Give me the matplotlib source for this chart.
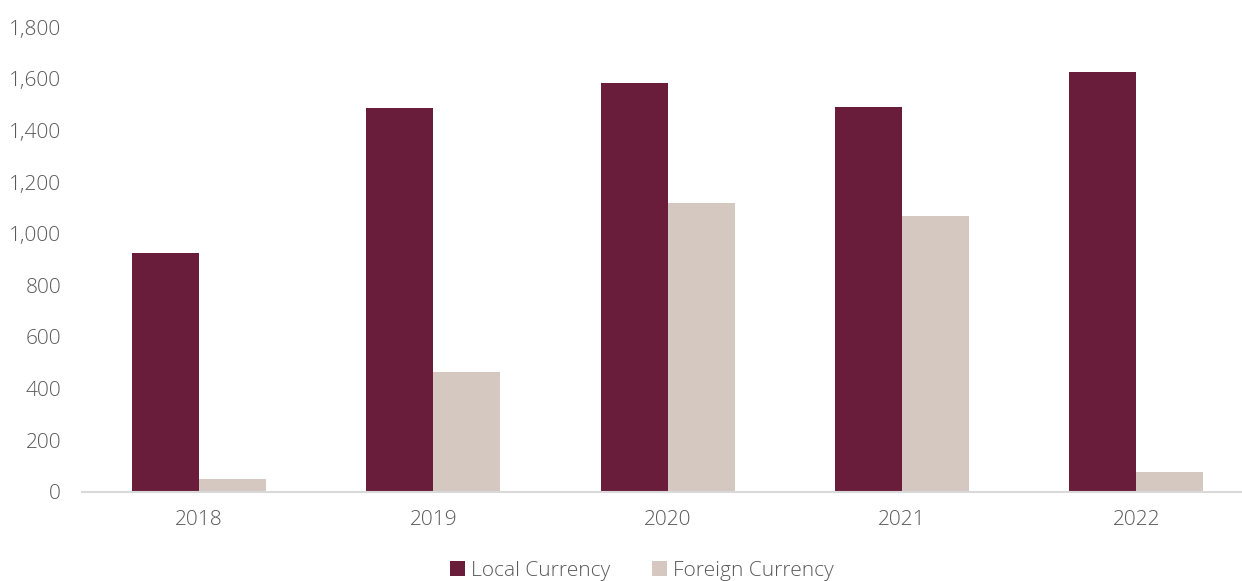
import matplotlib
matplotlib.use("Agg")
import matplotlib.pyplot as plt
import numpy as np

years = ["2018", "2019", "2020", "2021", "2022"]
local_currency = [924, 1487, 1583, 1490, 1626]
foreign_currency = [50, 465, 1119, 1068, 77]

LOCAL_COLOR = "#6A1D3A"
FOREIGN_COLOR = "#D5C8C1"
TEXT_COLOR = "#595959"

plt.rcParams["font.family"] = ["Open Sans", "DejaVu Sans"]

fig = plt.figure(figsize=(12.42, 5.81), dpi=100)
ax = fig.add_axes([0.066, 0.1532, 0.9433, 0.8003])

x = np.arange(len(years))
w = 0.286
ax.bar(x - w / 2, local_currency, width=w, color=LOCAL_COLOR, label="Local Currency")
ax.bar(x + w / 2, foreign_currency, width=w, color=FOREIGN_COLOR, label="Foreign Currency")

ax.set_xlim(-0.5, len(years) - 0.5)
ax.set_ylim(0, 1800)
ax.set_yticks(np.arange(0, 1801, 200))
ax.set_yticklabels([f"{v:,}" for v in range(0, 1801, 200)])
ax.set_xticks(x)
ax.set_xticklabels(years)

for s in ["top", "right", "left"]:
    ax.spines[s].set_visible(False)
ax.spines["bottom"].set_color("#D9D9D9")
ax.spines["bottom"].set_linewidth(1.5)
ax.tick_params(axis="both", length=0, labelsize=15, labelcolor=TEXT_COLOR)
ax.tick_params(axis="y", pad=15)
ax.tick_params(axis="x", pad=13)
for lbl in ax.get_xticklabels() + ax.get_yticklabels():
    lbl.set_fontweight("light")

leg = fig.legend(
    loc="center", bbox_to_anchor=(0.517, 0.018), ncol=2, frameon=False,
    handlelength=0.7, handleheight=0.7, handletextpad=0.3,
    columnspacing=2.0, prop={"weight": "light", "size": 15},
)
for t in leg.get_texts():
    t.set_color(TEXT_COLOR)

fig.savefig("out.png", dpi=100)
